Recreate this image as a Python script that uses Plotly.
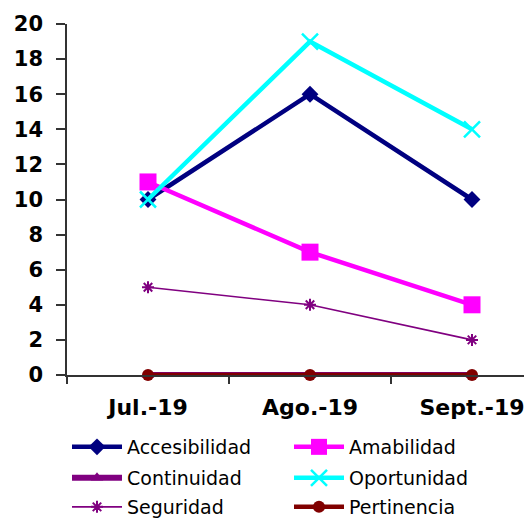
import plotly.graph_objects as go

# Monthly indicator counts
months = ["Jul.-19", "Ago.-19", "Sept.-19"]
accesibilidad = [10, 16, 10]
amabilidad = [11, 7, 4]
continuidad = [0, 0, 0]
oportunidad = [10, 19, 14]
seguridad = [5, 4, 2]
pertinencia = [0, 0, 0]

# name, values, colour, line width, marker symbol, marker size, marker outline, legend row
series = [
    ("Accesibilidad", accesibilidad, "#000080", 4.5, "diamond", 13, 0, "legend"),
    ("Amabilidad", amabilidad, "#FF00FF", 4.5, "square", 17, 0, "legend"),
    ("Continuidad", continuidad, "#800080", 6, "triangle-up", 11, 0, "legend2"),
    ("Oportunidad", oportunidad, "#00FFFF", 4.5, "x-thin", 16, 2.5, "legend2"),
    ("Seguridad", seguridad, "#800080", 1.6, "asterisk", 10, 2, "legend3"),
    ("Pertinencia", pertinencia, "#800000", 4.5, "circle", 12, 0, "legend3"),
]

fig = go.Figure()
for name, vals, color, lw, sym, msize, mlw, leg in series:
    fig.add_trace(go.Scatter(
        x=months, y=vals, name=name, mode="lines+markers",
        line=dict(color=color, width=lw),
        marker=dict(symbol=sym, size=msize, color=color,
                    line=dict(color=color, width=mlw)),
        cliponaxis=False, legend=leg,
    ))

H = 521
legend_font = dict(family="DejaVu Sans", size=19, color="black")


def legend_row(center_px):
    return dict(
        orientation="h", x=0.0, xanchor="left",
        yref="container", y=1 - center_px / H, yanchor="middle",
        font=legend_font, entrywidth=157, itemwidth=50,
        traceorder="normal", bgcolor="rgba(0,0,0,0)",
    )


fig.update_layout(
    width=524, height=H,
    margin=dict(l=67, r=0, t=24, b=146, autoexpand=False),
    paper_bgcolor="white", plot_bgcolor="white",
    showlegend=True,
    legend=legend_row(447),
    legend2=legend_row(478),
    legend3=legend_row(507),
    xaxis=dict(
        type="category", range=[-0.5, 2.321],
        showline=True, linecolor="#333333", linewidth=1.5,
        ticks="outside", ticklen=7, tickcolor="#333333", tickwidth=1.5,
        tickson="boundaries", showgrid=False, zeroline=False,
        tickfont=dict(family="DejaVu Sans", size=22, color="black", weight="bold"),
        ticklabelstandoff=12,
    ),
    yaxis=dict(
        range=[0, 20], dtick=2, tick0=0,
        showline=True, linecolor="#333333", linewidth=1.5,
        ticks="outside", ticklen=9, tickcolor="#333333", tickwidth=1.5,
        showgrid=False, zeroline=False,
        tickfont=dict(family="DejaVu Sans", size=21, color="black", weight="bold"),
        ticklabelstandoff=9,
    ),
)

fig.write_html("out.html")
